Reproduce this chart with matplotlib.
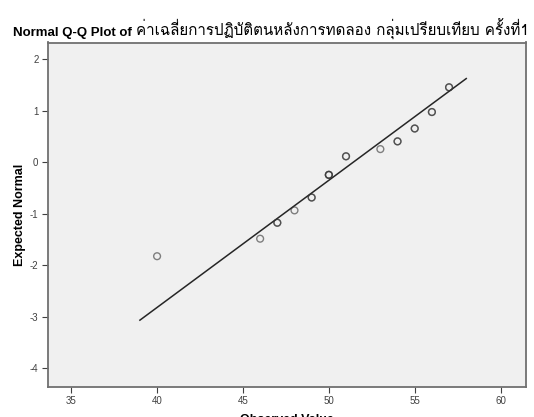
import matplotlib
matplotlib.use("Agg")
import matplotlib.pyplot as plt
import numpy as np

observed = [40, 46, 47, 48, 49, 50, 51, 53, 54, 55, 56, 57]
expected = [-1.82, -1.48, -1.17, -0.93, -0.68, -0.24, 0.12, 0.26, 0.41, 0.66, 0.98, 1.46]
# how many cases share a value (darker circles = overlapped)
counts = [1, 1, 2, 1, 2, 3, 2, 1, 2, 2, 2, 2]

mean_val = 51.4
sd_val = 4.05
line_x = [39, 58]

title_bold = "Normal Q-Q Plot of "
title_thai = "ค่าเฉลี่ยการปฏิบัติตนหลังการทดลอง กลุ่มเปรียบเทียบ ครั้งที่1"

fams = ["Liberation Sans", "Loma", "DejaVu Sans"]
plt.rcParams["font.family"] = fams
plt.rcParams["axes.unicode_minus"] = False

fig = plt.figure(figsize=(5.34, 4.17), dpi=100)
ax = fig.add_axes([47.5 / 534, 1 - 386.5 / 417, 478 / 534, 344 / 417])
ax.set_facecolor("#f0f0f0")

lx = np.array(line_x, dtype=float)
ax.plot(lx, (lx - mean_val) / sd_val, color="#262626", lw=1.1, zorder=2)

for xv, yv, c in zip(observed, expected, counts):
    for _ in range(c):
        ax.scatter(xv, yv, s=24, facecolors="none", edgecolors="#333333",
                   linewidths=1.0, alpha=0.6, zorder=3)

ax.set_xlim(33.62, 61.45)
ax.set_ylim(-4.35, 2.33)
ax.set_xticks([35, 40, 45, 50, 55, 60])
ax.set_yticks([-4, -3, -2, -1, 0, 1, 2])
ax.tick_params(labelsize=7, labelcolor="#404040", color="#404040",
               length=4, width=0.8, pad=2.5)
for s in ax.spines.values():
    s.set_color("#707070")
    s.set_linewidth(1.3)

ax.set_xlabel("Observed Value", fontsize=9, fontweight="bold", labelpad=6)
ax.set_ylabel("Expected Normal", fontsize=9, fontweight="bold", labelpad=3)

base_y = 1 - 36 / 417
t1 = fig.text(13 / 534, base_y, title_bold, fontsize=9.5, fontweight="bold",
              va="baseline", ha="left")
fig.canvas.draw()
bb = t1.get_window_extent()
fig.text(bb.x1 / fig.bbox.width, base_y, title_thai, fontsize=10.9,
         va="baseline", ha="left", family=["Loma", "Liberation Sans"])

fig.savefig("out.png", dpi=100)
